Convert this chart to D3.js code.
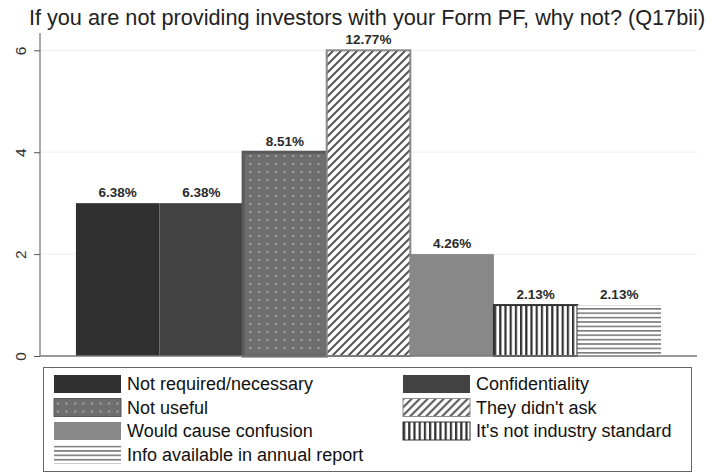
<!DOCTYPE html>
<html lang="en">
<head>
<meta charset="UTF-8">
<title>Form PF</title>
<script src="https://cdn.jsdelivr.net/npm/d3@7"></script>
<style>
  body { margin: 0; background: #fff; }
  text { font-family: "Liberation Sans", Arial, sans-serif; }
</style>
</head>
<body>
<script>
// data
var categories = ["Not required/necessary", "Confidentiality", "Not useful", "They didn't ask",
                  "Would cause confusion", "It's not industry standard", "Info available in annual report"];
var counts = [3, 3, 4, 6, 2, 1, 1];
var pctLabels = ["6.38%", "6.38%", "8.51%", "12.77%", "4.26%", "2.13%", "2.13%"];
var yTicks = [0, 2, 4, 6];
var fills = ["#2f2f2f", "#424242", "url(#p-dots)", "url(#p-diag)", "#888888", "url(#p-vert)", "url(#p-horiz)"];
var strokes = ["none", "none", "#5a5a5a", "#8a8a8a", "none", "#333333", "none"];

var width = 712, height = 476;
var svg = d3.select("body").append("svg").attr("width", width).attr("height", height);

var defs = svg.append("defs");
var pd = defs.append("pattern").attr("id", "p-dots").attr("patternUnits", "userSpaceOnUse")
  .attr("width", 8.5).attr("height", 8);
pd.append("rect").attr("width", 8.5).attr("height", 8).attr("fill", "#6e6e6e");
pd.append("circle").attr("cx", 4).attr("cy", 4).attr("r", 1.1).attr("fill", "#b0b0b0");

var pg = defs.append("pattern").attr("id", "p-diag").attr("patternUnits", "userSpaceOnUse")
  .attr("width", 8).attr("height", 8);
pg.append("rect").attr("width", 8).attr("height", 8).attr("fill", "#fff");
pg.append("path").attr("d", "M-2,2 L2,-2 M0,8 L8,0 M6,10 L10,6").attr("stroke", "#555").attr("stroke-width", 2);

var pv = defs.append("pattern").attr("id", "p-vert").attr("patternUnits", "userSpaceOnUse")
  .attr("width", 5.2).attr("height", 10);
pv.append("rect").attr("width", 5.2).attr("height", 10).attr("fill", "#fff");
pv.append("rect").attr("width", 2.2).attr("height", 10).attr("fill", "#333");

var ph = defs.append("pattern").attr("id", "p-horiz").attr("patternUnits", "userSpaceOnUse")
  .attr("width", 10).attr("height", 4.4);
ph.append("rect").attr("width", 10).attr("height", 4.4).attr("fill", "#fff");
ph.append("rect").attr("width", 10).attr("height", 1.6).attr("fill", "#7a7a7a");

// title
svg.append("text").attr("x", 367).attr("y", 25).attr("text-anchor", "middle")
  .attr("font-size", 21.7).attr("fill", "#222")
  .text("If you are not providing investors with your Form PF, why not? (Q17bii)");

var x = d3.scaleBand().domain(categories).range([40, 697]).paddingInner(0).paddingOuter(0.43);
var y = d3.scaleLinear().domain([0, 6.34]).range([356, 33]);

// grid
svg.append("g").selectAll("line").data(yTicks.filter(function (d) { return d > 0; })).enter().append("line")
  .attr("x1", 40).attr("x2", 697)
  .attr("y1", function (d) { return y(d); }).attr("y2", function (d) { return y(d); })
  .attr("stroke", "#eeeeee").attr("stroke-width", 1);

// bars
svg.append("g").selectAll("rect").data(categories).enter().append("rect")
  .attr("x", function (d) { return x(d); })
  .attr("y", function (d, i) { return y(counts[i]); })
  .attr("width", x.bandwidth())
  .attr("height", function (d, i) { return y(0) - y(counts[i]); })
  .attr("fill", function (d, i) { return fills[i]; })
  .attr("stroke", function (d, i) { return strokes[i]; })
  .attr("stroke-width", function (d, i) { return i == 2 ? 3 : 2; });

// value labels
svg.append("g").selectAll("text").data(categories).enter().append("text")
  .attr("x", function (d) { return x(d) + x.bandwidth() / 2; })
  .attr("y", function (d, i) { return y(counts[i]) - 6; })
  .attr("text-anchor", "middle").attr("font-size", 13.5).attr("fill", "#2a2a2a")
  .attr("font-weight", 600)
  .text(function (d, i) { return pctLabels[i]; });

// axes
var yAxis = svg.append("g").attr("transform", "translate(40,0)")
  .call(d3.axisLeft(y).tickValues(yTicks).tickSize(6).tickFormat(d3.format("d")));
yAxis.select(".domain").attr("stroke", "#555").attr("d", "M0,33V356");
yAxis.selectAll(".tick line").attr("stroke", "#555");
yAxis.selectAll(".tick text").attr("font-size", 15.5).attr("fill", "#333")
  .attr("text-anchor", "middle").attr("dy", "0.35em")
  .attr("transform", "translate(-19,0) rotate(-90)").attr("x", 0).attr("y", 0);

svg.append("line").attr("x1", 40).attr("x2", 697).attr("y1", 356).attr("y2", 356)
  .attr("stroke", "#777").attr("stroke-width", 1.5);

// legend
svg.append("rect").attr("x", 43.5).attr("y", 367.5).attr("width", 648).attr("height", 104)
  .attr("fill", "none").attr("stroke", "#666").attr("stroke-width", 1);

var legendCols = [54, 403];
var legendRows = [384, 407.5, 431, 454.5];
var lg = svg.append("g").selectAll("g").data(categories).enter().append("g")
  .attr("transform", function (d, i) {
    return "translate(" + legendCols[i % 2] + "," + legendRows[Math.floor(i / 2)] + ")";
  });
lg.append("rect").attr("x", 0).attr("y", -9).attr("width", 67).attr("height", 18)
  .attr("fill", function (d, i) { return fills[i]; })
  .attr("stroke", function (d, i) { return strokes[i]; })
  .attr("stroke-width", 1);
lg.append("text").attr("x", 73).attr("y", 0).attr("dy", "0.36em")
  .attr("font-size", 18).attr("fill", "#111")
  .text(function (d) { return d; });
</script>
</body>
</html>
